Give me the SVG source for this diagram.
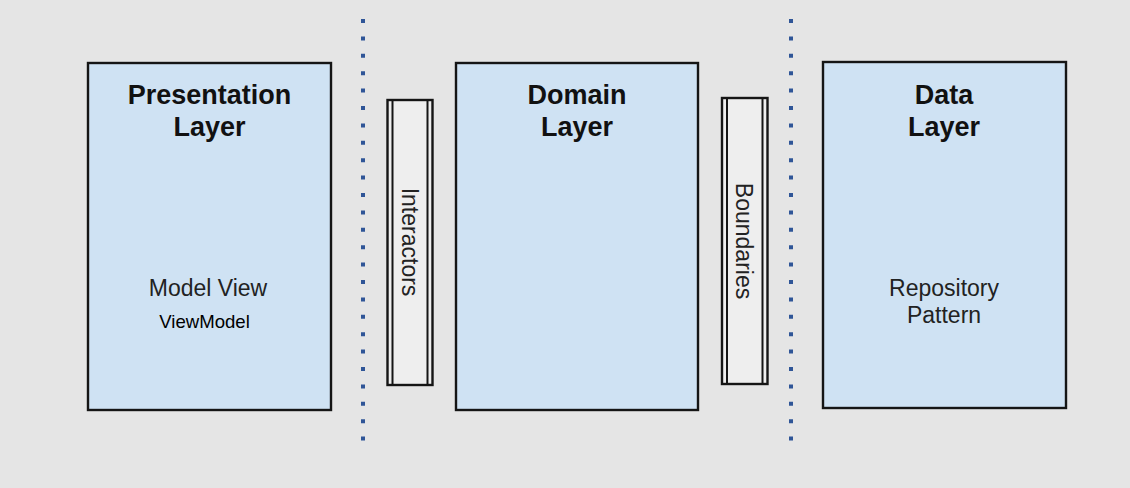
<svg xmlns="http://www.w3.org/2000/svg" width="1130" height="488" viewBox="0 0 1130 488">
<style>
.layer{fill:#cfe2f3;stroke:#151515;stroke-width:2.4}
.bar{fill:#eeeeee;stroke:#151515;stroke-width:2.4}
.inner{stroke:#151515;stroke-width:2}
.title{font-family:"Liberation Sans",Arial,sans-serif;font-weight:bold;font-size:27px;fill:#111;text-anchor:middle}
.body{font-family:"Liberation Sans",Arial,sans-serif;font-size:23px;fill:#222;text-anchor:middle}
.side{font-family:"Liberation Sans",Arial,sans-serif;font-size:23px;fill:#222;text-anchor:middle}
.dots{stroke:#2f5597;stroke-width:4;stroke-dasharray:4 13.4;fill:none}
</style>
<rect width="1130" height="488" fill="#e5e5e5"/>
<g id="connectors">
<line class="dots" x1="363" y1="19" x2="363" y2="445"/>
<line class="dots" x1="791" y1="19" x2="791" y2="445"/>
</g>
<g id="presentation">
<rect class="layer" x="88" y="63" width="243" height="347"/>
<text class="title" x="209.5" y="104">Presentation</text>
<text class="title" x="209.5" y="136">Layer</text>
<text class="body" x="208" y="296">Model View</text>
<text x="204.5" y="328" font-family="Liberation Sans,Arial,sans-serif" font-size="18.6" fill="#000" text-anchor="middle">ViewModel</text>
</g>
<g id="interactors">
<rect class="bar" x="387.5" y="100" width="45" height="285"/>
<line class="inner" x1="392.5" y1="100" x2="392.5" y2="385"/>
<line class="inner" x1="427.5" y1="100" x2="427.5" y2="385"/>
<text class="side" transform="translate(402,242) rotate(90)">Interactors</text>
</g>
<g id="domain">
<rect class="layer" x="456" y="63" width="242" height="347"/>
<text class="title" x="577" y="104">Domain</text>
<text class="title" x="577" y="136">Layer</text>
</g>
<g id="boundaries">
<rect class="bar" x="722" y="98" width="45.5" height="286"/>
<line class="inner" x1="727" y1="98" x2="727" y2="384"/>
<line class="inner" x1="762.5" y1="98" x2="762.5" y2="384"/>
<text class="side" transform="translate(736,241) rotate(90)">Boundaries</text>
</g>
<g id="data">
<rect class="layer" x="823" y="62" width="243" height="346"/>
<text class="title" x="944" y="104">Data</text>
<text class="title" x="944" y="136">Layer</text>
<text class="body" x="944" y="296">Repository</text>
<text class="body" x="944" y="323">Pattern</text>
</g>
</svg>
